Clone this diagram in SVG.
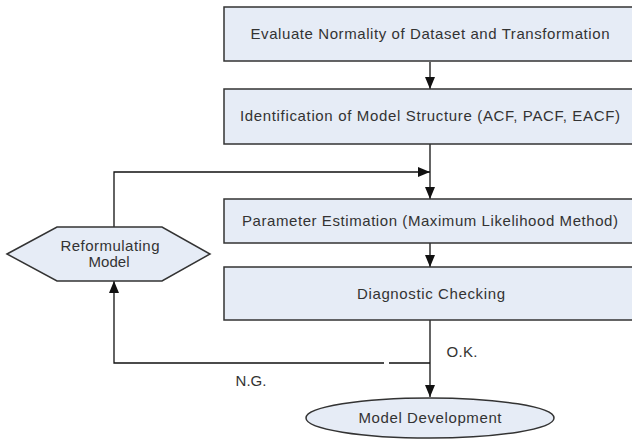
<svg xmlns="http://www.w3.org/2000/svg" width="632" height="439" viewBox="0 0 632 439">
<defs>
<style>
.box{fill:#e6ecf6;stroke:#333;stroke-width:1.5}
.t{font-family:"Liberation Sans",Arial,sans-serif;font-size:15px;fill:#333;text-anchor:middle}
.c{fill:none;stroke:#111;stroke-width:1.3}
</style>
<marker id="ah" viewBox="0 0 12 10" refX="12" refY="5" markerWidth="12" markerHeight="10" markerUnits="userSpaceOnUse" orient="auto">
<path d="M0,0 L12,5 L0,10 z" fill="#111"/>
</marker>
</defs>
<rect width="632" height="439" fill="#fff"/>
<g id="connectors">
<path class="c" d="M430,62 V89" marker-end="url(#ah)"/>
<path class="c" d="M430,144 V199" marker-end="url(#ah)"/>
<path class="c" d="M114,227 V172 H430" marker-end="url(#ah)"/>
<path class="c" d="M430,243 V267" marker-end="url(#ah)"/>
<path class="c" d="M430,320 V397" marker-end="url(#ah)"/>
<path class="c" d="M430,363 H389 M384,363 H114 V281" marker-end="url(#ah)"/>
<text class="t" x="462" y="357" textLength="31">O.K.</text>
<text class="t" x="251" y="386" textLength="31">N.G.</text>
</g>
<g id="n1"><rect class="box" x="224" y="7" width="414" height="54"/><text class="t" x="430" y="39" textLength="359">Evaluate Normality of Dataset and Transformation</text></g>
<g id="n2"><rect class="box" x="224" y="89" width="414" height="55"/><text class="t" x="430" y="121" textLength="380">Identification of Model Structure (ACF, PACF, EACF)</text></g>
<g id="n3"><rect class="box" x="224" y="199" width="414" height="44"/><text class="t" x="430" y="226" textLength="376">Parameter Estimation (Maximum Likelihood Method)</text></g>
<g id="n4"><rect class="box" x="224" y="267" width="414" height="53"/><text class="t" x="431" y="299" textLength="148">Diagnostic Checking</text></g>
<g id="n5"><polygon class="box" points="7,254 57,227 162,227 210,254 162,281 57,281"/><text class="t" x="110" y="251" textLength="99">Reformulating</text><text class="t" x="109" y="267" textLength="41">Model</text></g>
<g id="n6"><ellipse class="box" cx="430" cy="418" rx="124" ry="20"/><text class="t" x="430" y="423" textLength="143">Model Development</text></g>
</svg>
